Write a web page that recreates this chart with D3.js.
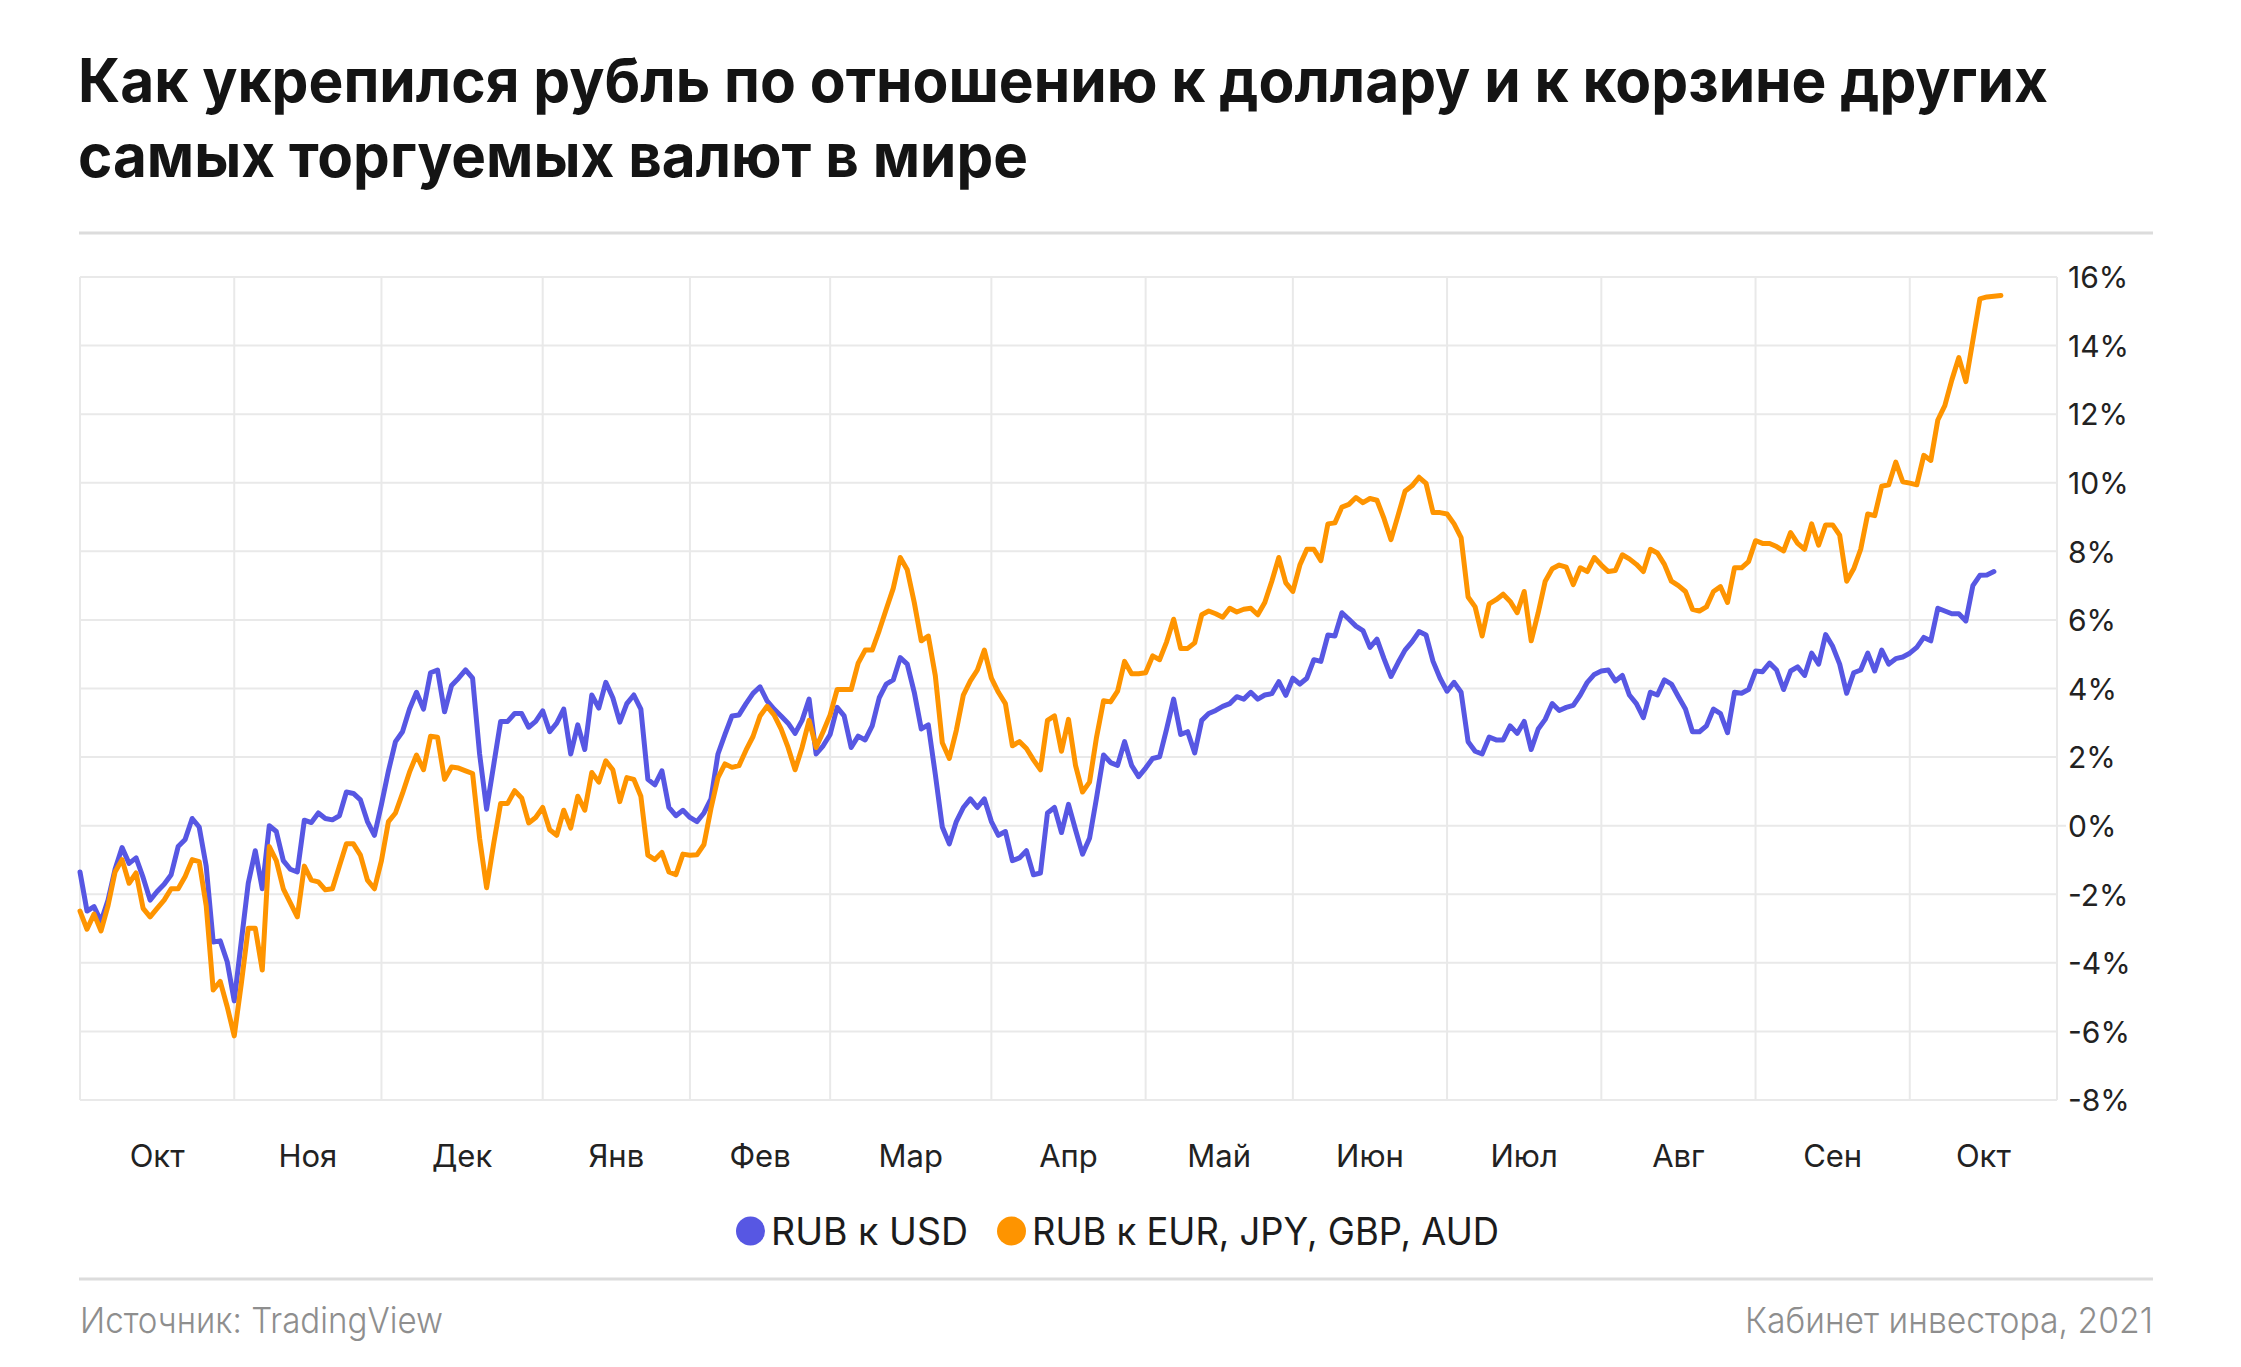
<!DOCTYPE html>
<html><head><meta charset="utf-8">
<script src="https://cdn.jsdelivr.net/npm/d3@7"></script>
<style>
html,body{margin:0;padding:0;background:#fff;}
svg{display:block;}
text{font-family:Inter,"Noto Sans",sans-serif;}
</style></head><body>
<svg id="c" width="2241" height="1367"></svg>
<script>
// ---------- DATA ----------
const titleLines = ["Как укрепился рубль по отношению к доллару и к корзине других", "самых торгуемых валют в мире"];
const monthLabels = ["Окт","Ноя","Дек","Янв","Фев","Мар","Апр","Май","Июн","Июл","Авг","Сен","Окт"];
// trading-day index (weekdays since 1 Oct 2020) where each month starts
const monthStarts = [0,22,43,66,87,107,130,152,173,195,217,239,261];
const dayCount = 282;
const yTicks = [16,14,12,10,8,6,4,2,0,-2,-4,-6,-8];
const seriesNames = ["RUB к USD", "RUB к EUR, JPY, GBP, AUD"];
const sourceText = "Источник: TradingView";
const creditText = "Кабинет инвестора, 2021";

// % change, one value per trading day
const usd = [-1.35,-2.49,-2.36,-2.79,-2.17,-1.27,-0.64,-1.10,-0.94,-1.51,
-2.17,-1.92,-1.71,-1.43,-0.61,-0.40,0.21,-0.04,-1.18,-3.39,
-3.36,-3.97,-5.11,-3.39,-1.68,-0.73,-1.84,0.00,-0.17,-1.02,
-1.27,-1.35,0.16,0.09,0.37,0.21,0.17,0.29,0.98,0.94,
0.75,0.12,-0.28,0.62,1.60,2.45,2.74,3.40,3.89,3.40,
4.46,4.54,3.32,4.09,4.30,4.54,4.30,2.09,0.48,1.76,
3.04,3.04,3.27,3.27,2.87,3.04,3.35,2.74,2.99,3.40,
2.09,2.94,2.22,3.81,3.43,4.18,3.73,3.02,3.56,3.81,
3.40,1.35,1.19,1.60,0.53,0.29,0.45,0.24,0.12,0.37,
0.78,2.09,2.66,3.20,3.23,3.56,3.86,4.05,3.64,3.40,
3.20,2.99,2.69,3.07,3.69,2.09,2.33,2.66,3.45,3.20,
2.28,2.61,2.50,2.91,3.73,4.13,4.25,4.90,4.71,3.89,
2.82,2.94,1.50,-0.04,-0.53,0.12,0.53,0.78,0.53,0.78,
0.12,-0.28,-0.17,-1.02,-0.94,-0.73,-1.43,-1.38,0.37,0.53,
-0.20,0.62,-0.12,-0.83,-0.37,0.81,2.06,1.84,1.76,2.45,
1.76,1.43,1.68,1.96,2.01,2.82,3.69,2.66,2.74,2.12,
3.07,3.27,3.36,3.48,3.56,3.76,3.69,3.89,3.69,3.81,
3.85,4.20,3.80,4.30,4.13,4.30,4.84,4.79,5.56,5.53,
6.21,6.02,5.82,5.69,5.20,5.44,4.87,4.35,4.75,5.12,
5.36,5.66,5.56,4.79,4.30,3.92,4.18,3.89,2.45,2.17,
2.09,2.58,2.50,2.50,2.91,2.69,3.04,2.22,2.82,3.10,
3.56,3.36,3.45,3.51,3.81,4.18,4.41,4.51,4.54,4.22,
4.38,3.81,3.56,3.15,3.89,3.81,4.25,4.13,3.76,3.40,
2.74,2.74,2.91,3.40,3.27,2.71,3.89,3.86,3.97,4.51,
4.49,4.74,4.54,3.97,4.51,4.63,4.38,5.03,4.71,5.57,
5.23,4.71,3.86,4.46,4.54,5.03,4.51,5.12,4.71,4.87,
4.92,5.03,5.20,5.49,5.39,6.34,6.26,6.18,6.18,5.97,
7.00,7.30,7.31,7.41];

const basket = [-2.49,-3.02,-2.58,-3.07,-2.33,-1.35,-0.99,-1.68,-1.38,-2.41,
-2.66,-2.41,-2.17,-1.84,-1.84,-1.48,-0.99,-1.05,-2.33,-4.79,
-4.54,-5.28,-6.13,-4.62,-2.99,-2.99,-4.21,-0.61,-1.02,-1.84,
-2.25,-2.66,-1.18,-1.59,-1.64,-1.87,-1.84,-1.18,-0.53,-0.53,
-0.86,-1.59,-1.84,-1.02,0.12,0.37,0.94,1.56,2.06,1.63,
2.61,2.58,1.35,1.71,1.68,1.60,1.52,-0.37,-1.81,-0.53,
0.65,0.65,1.02,0.81,0.08,0.24,0.53,-0.12,-0.28,0.45,
-0.07,0.86,0.45,1.55,1.27,1.89,1.63,0.70,1.40,1.35,
0.86,-0.86,-0.99,-0.78,-1.35,-1.43,-0.83,-0.86,-0.85,-0.55,
0.50,1.40,1.80,1.70,1.75,2.20,2.60,3.20,3.48,3.23,
2.82,2.28,1.63,2.28,3.07,2.28,2.74,3.23,3.97,3.97,
3.97,4.74,5.12,5.12,5.69,6.31,6.92,7.82,7.46,6.51,
5.39,5.53,4.38,2.42,1.96,2.78,3.81,4.22,4.54,5.12,
4.30,3.89,3.56,2.33,2.45,2.25,1.92,1.63,3.07,3.20,
2.17,3.10,1.76,0.98,1.27,2.58,3.64,3.61,3.92,4.79,
4.43,4.43,4.46,4.95,4.84,5.36,6.02,5.17,5.17,5.33,
6.15,6.26,6.18,6.08,6.34,6.23,6.31,6.34,6.15,6.51,
7.13,7.82,7.08,6.83,7.60,8.06,8.06,7.73,8.80,8.83,
9.29,9.37,9.57,9.42,9.54,9.49,8.96,8.34,9.04,9.75,
9.91,10.16,9.98,9.13,9.13,9.09,8.80,8.40,6.67,6.38,
5.53,6.47,6.59,6.75,6.54,6.21,6.83,5.39,6.21,7.13,
7.49,7.60,7.54,7.03,7.52,7.41,7.82,7.60,7.41,7.44,
7.90,7.78,7.62,7.41,8.06,7.95,7.62,7.13,7.00,6.83,
6.31,6.26,6.38,6.83,6.97,6.51,7.52,7.52,7.70,8.31,
8.23,8.23,8.14,8.01,8.55,8.23,8.06,8.80,8.18,8.77,
8.77,8.47,7.13,7.49,8.06,9.09,9.04,9.90,9.94,10.60,
10.03,9.99,9.94,10.80,10.65,11.83,12.25,13.00,13.65,12.95,
14.15,15.36,15.42,15.44,15.46];

// ---------- LAYOUT ----------
const W = 2241, H = 1367;
const plot = {left: 80, right: 2057, top: 277, bottom: 1100};
const colors = ["#5757e3", "#fe9400"];
const gridColor = "#e9e9e9";

const svg = d3.select("#c");
svg.append("rect").attr("width", W).attr("height", H).attr("fill", "#fff");

function fit(sel, w) {
  const n = sel.node().getComputedTextLength();
  if (Math.abs(n - w) / w > 0.01) sel.attr("textLength", w).attr("lengthAdjust", "spacingAndGlyphs");
}

// title
const titleBase = [102, 177];
const titleW = [1970, 950];
titleLines.forEach((t, i) => {
  const el = svg.append("text").attr("x", 78).attr("y", titleBase[i])
    .attr("font-size", 60).attr("font-weight", 700).attr("fill", "#141414").text(t);
  fit(el, titleW[i]);
});

// separators
[233, 1279].forEach(yy => svg.append("line").attr("x1", 79).attr("x2", 2153)
  .attr("y1", yy).attr("y2", yy).attr("stroke", "#dcdcdc").attr("stroke-width", 3));

const x = d3.scaleLinear().domain([0, dayCount]).range([plot.left, plot.right]);
const y = d3.scaleLinear().domain([-8, 16]).range([plot.bottom, plot.top]);

// grid
const grid = svg.append("g");
grid.selectAll("line.h").data(yTicks).join("line").attr("class", "h")
  .attr("x1", plot.left).attr("x2", d => d === 0 ? plot.right + 9 : plot.right)
  .attr("y1", d => y(d)).attr("y2", d => y(d))
  .attr("stroke", gridColor).attr("stroke-width", 2);
grid.selectAll("line.v").data(monthStarts.concat([dayCount])).join("line").attr("class", "v")
  .attr("x1", d => x(d)).attr("x2", d => x(d))
  .attr("y1", plot.top).attr("y2", plot.bottom)
  .attr("stroke", gridColor).attr("stroke-width", 2);

// y axis labels
const yAxis = d3.axisRight(y).tickValues(yTicks).tickFormat(d => d + "%").tickSize(0).tickPadding(11);
const ya = svg.append("g").attr("transform", `translate(${plot.right},0)`).call(yAxis);
ya.select(".domain").remove();
ya.selectAll("text").attr("font-size", 30).attr("fill", "#222").attr("font-family", "Inter, sans-serif").attr("dy", "0.36em");

// x labels (centered in each month)
const ends = monthStarts.slice(1).concat([dayCount]);
svg.append("g").selectAll("text").data(monthLabels).join("text")
  .attr("x", (d, i) => (x(monthStarts[i]) + x(ends[i])) / 2)
  .attr("y", 1167).attr("text-anchor", "middle")
  .attr("font-size", 31).attr("fill", "#222").text(d => d);

// lines
const line = d3.line().x((d, i) => x(i)).y(d => y(d));
[usd, basket].forEach((s, k) => {
  svg.append("path").datum(s).attr("d", line).attr("fill", "none")
    .attr("stroke", colors[k]).attr("stroke-width", 5)
    .attr("stroke-linejoin", "round").attr("stroke-linecap", "round");
});

// legend
const leg = svg.append("g");
const legW = [197, 467];
let cx = 736;
seriesNames.forEach((n, k) => {
  leg.append("circle").attr("cx", cx + 14.5).attr("cy", 1231).attr("r", 14.5).attr("fill", colors[k]);
  const t = leg.append("text").attr("x", cx + 35).attr("y", 1245).attr("font-size", 38)
    .attr("fill", "#1c1c1c").text(n);
  fit(t, legW[k]);
  cx += 35 + legW[k] + 29;
});

// footer
const s1 = svg.append("text").attr("x", 80).attr("y", 1333).attr("font-size", 36)
  .attr("font-weight", 300).attr("fill", "#8e8e8e").text(sourceText);
fit(s1, 363);
const s2 = svg.append("text").attr("x", 2153).attr("y", 1333).attr("font-size", 36)
  .attr("font-weight", 300).attr("fill", "#8e8e8e").attr("text-anchor", "end").text(creditText);
fit(s2, 408);
</script>
</body></html>
